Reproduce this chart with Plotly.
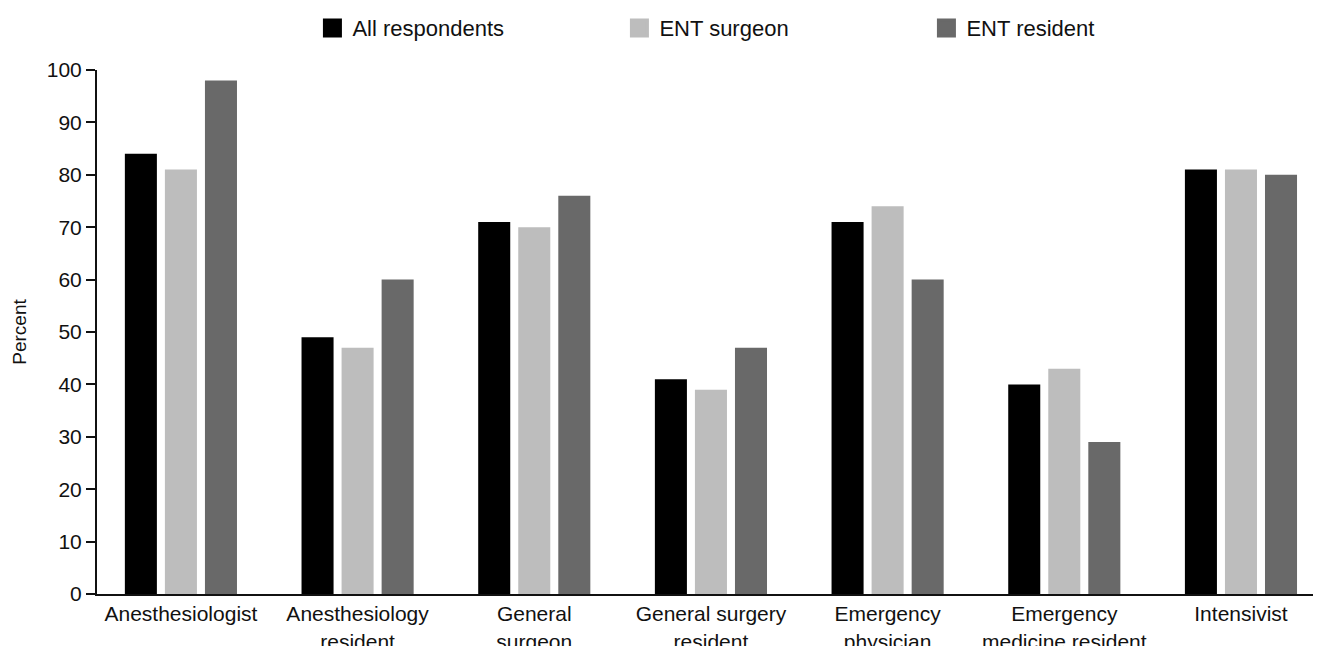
import plotly.graph_objects as go

categories = ["Anesthesiologist", "Anesthesiology<br>resident", "General<br>surgeon",
              "General surgery<br>resident", "Emergency<br>physician",
              "Emergency<br>medicine resident", "Intensivist"]
series_names = ["All respondents", "ENT surgeon", "ENT resident"]
all_respondents = [84, 49, 71, 41, 71, 40, 81]
ent_surgeon = [81, 47, 70, 39, 74, 43, 81]
ent_resident = [98, 60, 76, 47, 60, 29, 80]
y_ticks = [0, 10, 20, 30, 40, 50, 60, 70, 80, 90, 100]
colors = ["#000000", "#bdbdbd", "#696969"]

FONT = "Liberation Sans, Arial, sans-serif"

fig = go.Figure()
for name, vals, col in zip(series_names, [all_respondents, ent_surgeon, ent_resident], colors):
    fig.add_trace(go.Bar(name=name, x=categories, y=vals, showlegend=False,
                         marker=dict(color=col, line=dict(width=0))))
# legend entries (larger square swatches)
for name, col in zip(series_names, colors):
    fig.add_trace(go.Scatter(name=name, x=[None], y=[None], mode="markers",
                             marker=dict(symbol="square", size=20, color=col,
                                         line=dict(color=col, width=3)),
                             showlegend=True))

# page body has an 8px margin, so the figure is sized to fit the 1321x646 view
fig.update_layout(
    width=1313, height=638,
    margin=dict(l=89, r=0, t=62, b=52, autoexpand=False),
    paper_bgcolor="white", plot_bgcolor="white",
    font=dict(family=FONT, size=21, color="#111111"),
    barmode="group", bargap=0.32, bargroupgap=0.2,
    showlegend=True,
    legend=dict(orientation="h", x=0.176, xanchor="left", y=1.080, yanchor="middle",
                entrywidth=262, entrywidthmode="pixels",
                font=dict(family=FONT, size=22, color="#111111"),
                itemsizing="trace", bgcolor="rgba(0,0,0,0)"),
    xaxis=dict(showline=True, linecolor="#111111", linewidth=2, ticks="",
               showgrid=False, tickfont=dict(size=21), range=[-0.475, 6.453],
               automargin=False),
    yaxis=dict(showline=True, linecolor="#111111", linewidth=2, ticks="outside",
               ticklen=9, tickcolor="#111111", tickwidth=1.5,
               showgrid=False, zeroline=False, range=[0, 100], automargin=False,
               tickvals=y_ticks, tickfont=dict(size=21),
               title=dict(text="Percent", font=dict(size=19))),
)

fig.write_html("out.html")
